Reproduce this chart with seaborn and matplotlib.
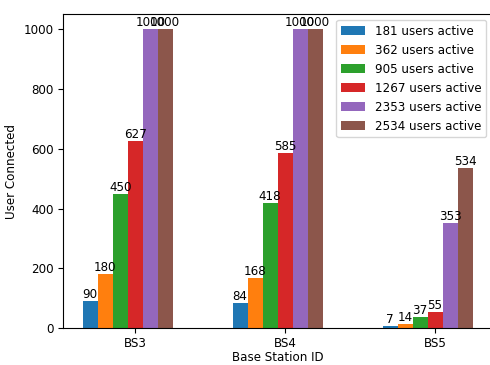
import matplotlib
matplotlib.use("Agg")
import matplotlib.pyplot as plt
import seaborn as sns
import pandas as pd

stations = ["BS3", "BS4", "BS5"]
series = ["181 users active", "362 users active", "905 users active",
          "1267 users active", "2353 users active", "2534 users active"]
values = {
    "181 users active": [90, 84, 7],
    "362 users active": [180, 168, 14],
    "905 users active": [450, 418, 37],
    "1267 users active": [627, 585, 55],
    "2353 users active": [1000, 1000, 353],
    "2534 users active": [1000, 1000, 534],
}

rows = []
for s in series:
    for st, v in zip(stations, values[s]):
        rows.append({"station": st, "series": s, "users": v})
df = pd.DataFrame(rows)

FS = 8.6
plt.rcParams["font.size"] = FS

fig = plt.figure(figsize=(4.9, 3.65), dpi=100)
ax = fig.add_axes([63.3/490, (365-328.3)/365, (492-63.3)/490, (328.3-14)/365])

palette = sns.color_palette("tab10", 6)
sns.barplot(data=df, x="station", y="users", hue="series", hue_order=series,
            order=stations, palette=palette, width=0.6, saturation=1,
            errorbar=None, ax=ax)

# bars in the reference sit slightly left of the tick (group offset)
for c in ax.containers:
    for p in c:
        p.set_x(p.get_x() - 0.05)
    ax.bar_label(c, fmt="%d", fontsize=FS)

ax.set_xlim(-0.48, 2.38)
ax.set_ylim(0, 1050)
ax.tick_params(labelsize=FS)
ax.tick_params(axis="x", pad=2.5)
ax.set_xlabel("Base Station ID", fontsize=FS, labelpad=1)
ax.set_ylabel("User Connected", fontsize=FS)
handles, labels = ax.get_legend_handles_labels()
ax.legend(handles, labels, loc="upper right", fontsize=FS)

fig.savefig("out.png", dpi=100)
